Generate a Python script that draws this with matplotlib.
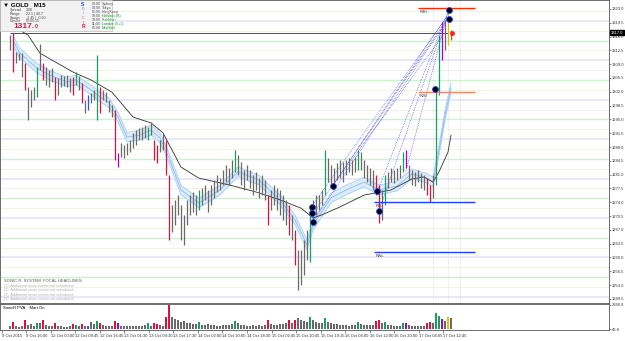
import numpy as np
import matplotlib.pyplot as plt
from matplotlib.patches import Rectangle

plt.rcParams['font.family'] = ['Liberation Sans', 'DejaVu Sans']

# ---- candles (M15 GOLD, resampled) ----
bar_high = [1316.4, 1316.9, 1312.1, 1311.8, 1311.8, 1309.3, 1303.2, 1302.5, 1303.2, 1308.3,
            1314.1, 1309.3, 1308.3, 1307.5, 1308.0, 1305.8, 1305.5, 1306.3, 1306.0, 1306.3,
            1305.5, 1305.8, 1307.0, 1306.0, 1304.2, 1299.9, 1301.2, 1301.7, 1302.5, 1311.3,
            1303.2, 1302.5, 1301.9, 1299.9, 1298.7, 1297.4, 1286.5, 1289.0, 1288.5, 1289.0,
            1289.8, 1291.6, 1292.3, 1292.8, 1293.1, 1293.6, 1293.1, 1294.3, 1289.8, 1288.5,
            1289.8, 1291.6, 1289.8, 1280.9, 1273.3, 1274.6, 1275.8, 1273.3, 1270.8, 1274.6,
            1275.8, 1276.6, 1275.8, 1277.1, 1277.6, 1278.4, 1277.1, 1278.4, 1279.6, 1280.9,
            1280.1, 1282.2, 1283.4, 1282.7, 1284.7, 1287.2, 1286.0, 1284.2, 1282.2, 1283.4,
            1282.2, 1280.9, 1281.7, 1280.1, 1280.9, 1279.6, 1275.8, 1277.1, 1278.4, 1277.6,
            1277.1, 1275.8, 1274.6, 1273.3, 1270.8, 1267.0, 1261.9, 1261.9, 1264.4, 1267.0,
            1273.3, 1274.6, 1275.8, 1275.8, 1277.1, 1287.2, 1285.2, 1283.4, 1282.7, 1283.9,
            1284.7, 1284.2, 1284.7, 1285.2, 1284.7, 1285.5, 1287.2, 1286.7, 1284.7, 1283.4,
            1282.7, 1282.2, 1280.9, 1278.4, 1277.1, 1280.9, 1281.7, 1282.7, 1282.2, 1282.7,
            1283.4, 1286.7, 1287.2, 1283.4, 1282.2, 1281.7, 1282.2, 1281.5, 1280.9, 1280.1,
            1278.4, 1280.9, 1302.5, 1316.4, 1319.7, 1320.2, 1322.7, 1317.7]
bar_low = [1312.6, 1307.0, 1309.3, 1310.1, 1305.8, 1302.5, 1294.8, 1298.1, 1299.9, 1300.7,
           1307.5, 1305.0, 1303.7, 1303.2, 1304.5, 1299.9, 1301.2, 1303.2, 1303.5, 1303.2,
           1301.9, 1301.2, 1303.7, 1302.5, 1299.2, 1296.6, 1297.4, 1299.2, 1299.9, 1294.8,
           1296.6, 1299.9, 1299.4, 1296.9, 1295.6, 1284.7, 1282.9, 1285.5, 1285.2, 1286.0,
           1286.7, 1287.7, 1288.5, 1289.8, 1289.8, 1290.3, 1289.8, 1291.0, 1284.7, 1283.9,
           1286.7, 1287.2, 1280.9, 1264.4, 1266.4, 1268.2, 1270.8, 1264.4, 1263.2, 1268.2,
           1270.8, 1271.5, 1270.8, 1272.0, 1273.3, 1274.6, 1271.5, 1273.3, 1275.1, 1276.6,
           1277.1, 1278.4, 1279.1, 1278.4, 1280.1, 1281.7, 1280.9, 1278.4, 1277.1, 1279.6,
           1277.6, 1275.8, 1277.1, 1275.1, 1275.8, 1274.6, 1268.2, 1272.0, 1273.3, 1272.0,
           1270.8, 1269.5, 1268.2, 1265.7, 1264.4, 1258.1, 1251.7, 1253.0, 1255.5, 1259.3,
           1258.8, 1269.5, 1270.8, 1272.0, 1273.3, 1275.8, 1279.1, 1278.4, 1277.1, 1279.6,
           1280.1, 1279.1, 1280.9, 1281.7, 1280.9, 1281.7, 1282.2, 1282.2, 1280.1, 1279.1,
           1278.4, 1277.1, 1275.8, 1268.7, 1269.5, 1273.3, 1277.6, 1279.1, 1278.9, 1279.6,
           1280.1, 1281.7, 1282.7, 1279.6, 1278.4, 1278.1, 1279.1, 1277.6, 1277.1, 1275.8,
           1274.1, 1275.1, 1278.4, 1301.2, 1310.1, 1312.6, 1313.9, 1315.1]
# g grey, r climax down, G climax up, b/m rising volume, y alert
bar_kind = ("grgggrgggG" "grgggrgggg" "grGgrgbggG" "rggggrmggg" "ggggggGgrr"
            "ggrrgggggg" "gggGgggggg" "gggggGgggg" "ggggggrggg" "gggrgrgggg"
            "GggggGgggg" "ggggggGggg" "ggrrgGgggg" "gGmggggggr" "rgGGmgyg")
volume = [350, 900, 420, 300, 380, 1050, 520, 600, 450, 800,
          700, 1100, 480, 420, 380, 700, 450, 350, 300, 320,
          400, 650, 500, 350, 600, 420, 380, 900, 650, 1000,
          800, 500, 420, 380, 450, 1000, 700, 450, 380, 400,
          350, 420, 380, 450, 400, 520, 750, 450, 800, 650,
          500, 450, 1400, 2866, 1500, 1200, 1100, 900, 1000, 800,
          700, 650, 600, 900, 550, 500, 620, 480, 520, 450,
          420, 480, 500, 560, 620, 1000, 700, 560, 480, 450,
          420, 520, 400, 480, 450, 500, 1050, 650, 560, 500,
          600, 650, 700, 1100, 800, 1150, 1300, 1100, 1000, 900,
          1500, 1100, 900, 800, 700, 1300, 900, 700, 650, 600,
          560, 520, 480, 450, 500, 480, 850, 650, 520, 480,
          500, 560, 950, 1100, 700, 850, 520, 480, 450, 420,
          450, 800, 750, 500, 420, 400, 380, 420, 450, 700,
          900, 800, 1900, 1600, 1200, 1000, 1400, 1300]
last_price = 1317.0

# slow MA (black) read at a few bars
ma_bar = [2, 6, 10, 15, 21, 27, 34, 41, 47, 51, 57, 63, 73, 82, 90, 97, 101, 104,
          110, 118, 127, 134, 138, 141, 143, 146, 147]
ma_val = [1318.2, 1316.4, 1311.8, 1309.6, 1307.0, 1305.0, 1301.9, 1295.6, 1294.1, 1291.6,
          1282.9, 1280.1, 1278.4, 1276.6, 1274.6, 1272.5, 1270.0, 1270.8, 1272.8, 1275.8,
          1277.1, 1279.9, 1280.4, 1279.1, 1281.7, 1286.7, 1291.0]
# dragon band (EMA34 of close, high, low)
band_bar = [1, 3, 7, 9, 13, 19, 22, 27, 30, 33, 36, 39, 43, 47, 50, 53, 57, 63, 70, 76,
            83, 90, 95, 99, 101, 107, 112, 118, 123, 129, 134, 139, 141, 143, 145, 147]
band_mid = [1315.1, 1312.1, 1309.3, 1308.0, 1306.3, 1304.5, 1305.0, 1302.5, 1300.7, 1299.2,
            1295.6, 1290.5, 1291.0, 1292.3, 1290.3, 1285.2, 1277.1, 1273.8, 1277.1, 1281.7,
            1279.6, 1274.6, 1269.5, 1263.2, 1268.2, 1275.1, 1277.1, 1279.1, 1277.1, 1278.1,
            1281.2, 1280.1, 1279.1, 1287.2, 1296.1, 1303.0]
band_half = 1.2

# fan of dotted trend lines (bar, price) -> (bar, price)
fan = [(100.5, 1272.8, 145.5, 1321.0), (101, 1271.0, 145, 1319.7), (101, 1269.0, 144, 1318.2),
       (107.5, 1278.1, 145.5, 1321.0), (107.5, 1278.1, 144, 1316.0), (122.5, 1276.8, 146, 1322.2),
       (123, 1271.8, 145, 1319.7), (132, 1282.0, 146, 1322.2)]
sig_bar = [100.7, 100.7, 101, 107.7, 122.3, 123, 146.3, 146.3, 141.7]
sig_val = [1272.8, 1271.3, 1269.0, 1278.1, 1276.8, 1271.8, 1322.7, 1320.5, 1302.8]

levels = [1323.3, 1302.0, 1274.1, 1261.4]
level_names = ["R4H", "R2H", "R0L", "RWL"]
level_start = [136, 136, 121.5, 121.5]
level_colors = ["#ff2a00", "#f4846a", "#1f3fff", "#1f3fff"]

price_ticks = [1323.0, 1319.5, 1316.0, 1312.5, 1309.0, 1305.5, 1302.0, 1298.5, 1295.0, 1291.5,
               1288.0, 1284.5, 1281.0, 1277.5, 1274.0, 1270.5, 1267.0, 1263.5, 1260.0, 1256.5,
               1253.0, 1249.5]
time_labels = ["9 Oct 2015", "9 Oct 16:00", "12 Oct 00:00", "12 Oct 08:45", "12 Oct 16:45",
               "13 Oct 01:30", "13 Oct 09:30", "13 Oct 17:30", "14 Oct 02:00", "14 Oct 10:00",
               "14 Oct 18:30", "15 Oct 02:45", "15 Oct 10:45", "15 Oct 19:15", "16 Oct 04:00",
               "16 Oct 12:00", "16 Oct 20:00", "17 Oct 04:05", "17 Oct 12:45"]
sessions = ["03:00", "04:00", "05:00", "10:00", "10:00", "11:00", "05:00"]
session_names = ["Sydney", "Tokyo", "HongKong", "Helsinki (B)", "Frankfurt", "London (0+1)", "NewYork"]
headlines = ["(1)  Additional news events not scheduled"] * 4

kind_color = {"g": "#6a6a6a", "r": "#e0103c", "G": "#13a063", "b": "#2f55e0",
              "m": "#a800d8", "y": "#e0c000"}
cols = [kind_color[k] for k in bar_kind]
idx = np.arange(len(bar_high))

W, H = 625, 341
fig = plt.figure(figsize=(W / 100, H / 100), dpi=100)
ax = fig.add_axes([0, 1 - 303 / H, 609 / W, 303 / H])
vax = fig.add_axes([0, 1 - 330 / H, 609 / W, 26 / H])

# round-number grid
for p in np.arange(1250, 1325, 2.5):
    if p % 10 == 0:
        c, lw = "#e2e2f8", 1.1
    elif p % 5 == 0:
        c, lw = "#cdf2cd", 1.0
    else:
        c, lw = "#f3f3e4", 0.8
    ax.axhline(p, color=c, lw=lw, zorder=0)

ax.hlines(last_price, 0, 146, color="#333333", lw=0.6, zorder=1)

ax.fill_between(band_bar, np.array(band_mid) - band_half, np.array(band_mid) + band_half,
                color="#dcecfb", lw=0, zorder=1)
ax.plot(band_bar, np.array(band_mid) + band_half, color="#abd2f6", lw=0.7, zorder=2)
ax.plot(band_bar, np.array(band_mid) - band_half, color="#abd2f6", lw=0.7, zorder=2)
ax.plot(band_bar, band_mid, color="#8cbcec", lw=0.6, zorder=2)
ax.plot(ma_bar, ma_val, color="#333333", lw=0.6, zorder=3)

for x0, y0, x1, y1 in fan:
    ax.plot([x0, x1], [y0, y1], color="#3a3ae0", lw=0.5, ls=(0, (1, 1.5)), zorder=2)

ax.vlines(idx, bar_low, bar_high, colors=cols, lw=0.9, zorder=4)

for p, name, s, c in zip(levels, level_names, level_start, level_colors):
    ax.hlines(p, s, 155, color=c, lw=1.0, zorder=5)
    ax.text(s + 0.5, p - 0.6, name, fontsize=2.8, color="#333333", va="top")

for xv in [141, 146, 150]:
    ax.axvline(xv, color="#c8c8c8", lw=0.5, ls=(0, (1, 2)), zorder=1)

ax.scatter(sig_bar, sig_val, s=18, color="black", edgecolor="#2848ff", lw=0.6, zorder=6)
ax.scatter([147.5], [last_price], s=6, color="#ff2020", zorder=6)

ax.set_xlim(-3.33, 199.67)
ax.set_ylim(1248.44, 1325.28)
ax.yaxis.tick_right()
ax.set_yticks(price_ticks)
ax.set_yticklabels([f"{v:.1f}" for v in price_ticks])
ax.tick_params(axis="y", labelsize=3.0, length=1.5, width=0.4, pad=0.8, colors="#333333")
ax.set_xticks([])
for s in ax.spines.values():
    s.set_linewidth(0.6)
    s.set_color("#555555")
ax.text(1.003, (last_price - 1248.44) / (1325.28 - 1248.44), f"{last_price:.1f}",
        transform=ax.transAxes, fontsize=3.0, color="white", va="center", ha="left",
        bbox=dict(boxstyle="square,pad=0.15", fc="black", ec="black"))

# volume panel
vax.bar(idx, volume, width=0.8, color=cols)
vax.set_xlim(-3.33, 199.67)
vax.set_ylim(-60, 2960)
vax.yaxis.tick_right()
vax.set_yticks([46.8, 2866.8])
vax.set_yticklabels(["46.8", "2866.8"])
vax.tick_params(axis="y", labelsize=3.0, length=1.5, width=0.4, pad=0.8, colors="#333333")
tick_pos = -2.7 + 8.17 * np.arange(len(time_labels))
vax.set_xticks(tick_pos)
vax.set_xticklabels(time_labels, ha="left")
vax.tick_params(axis="x", labelsize=3.0, length=2, width=0.4, pad=1, colors="#333333")
for s in vax.spines.values():
    s.set_linewidth(0.6)
    s.set_color("#555555")
vax.text(0.005, 0.93, "SonicR PVA    Mart On", transform=vax.transAxes, fontsize=3.0, va="top")


def fx(px):
    return px / W


def fy(py):
    return 1 - py / H


# info panel top left
fig.patches.append(Rectangle((0, fy(31)), fx(112), 31 / H, transform=fig.transFigure,
                             fc="#f2f2f2", ec="#bdbdbd", lw=0.5, zorder=10))
fig.text(fx(3), fy(5), "\u25bc GOLD   M15", fontsize=4.4, weight="bold", va="center", zorder=11)
rows = [("Spread", "3.00"), ("Range", "22.1 | 40.7"), ("Swaps", "-2.45 | -0.20"), ("Candle", "00:05:15")]
for k, (a, b) in enumerate(rows):
    fig.text(fx(10), fy(10 + 3.8 * k), a, fontsize=2.6, color="#444444", va="center", zorder=11)
    fig.text(fx(26), fy(10 + 3.8 * k), b, fontsize=2.6, color="#444444", va="center", zorder=11)
fig.text(fx(13), fy(26.5), "1317.", fontsize=6.0, weight="bold", color="#e8104a", va="center", zorder=11)
fig.text(fx(35), fy(27), "0", fontsize=3.8, weight="bold", color="#e8104a", va="center", zorder=11)
for k, (ch, c) in enumerate(zip("SDICIR", ["#1a3cf0", "#8aa0f0", "#c090f0", "#f080a0", "#f04070", "#e01040"])):
    fig.text(fx(83), fy(4.5 + 4.5 * k), ch, fontsize=3.6 if k in (0, 5) else 2.6,
             weight="bold", color=c, va="center", ha="center", zorder=11)
for k, (t, n) in enumerate(zip(sessions, session_names)):
    c = "#555555" if k < 3 else "#1c9c2c"
    fig.text(fx(92), fy(4 + 4.0 * k), t, fontsize=2.6, color="#555555", va="center", zorder=11)
    fig.text(fx(102), fy(4 + 4.0 * k), n, fontsize=2.6, color=c, va="center", zorder=11)

fig.text(fx(4), fy(281), "SONIC R. SYSTEM  FOCAL HEADLINES:", fontsize=3.0, color="#555555", va="center")
for k, h in enumerate(headlines):
    fig.text(fx(4), fy(286 + 4.3 * k), h.replace("(1)", f"({k + 1})"), fontsize=2.7,
             color="#b0b0b0", va="center")

fig.savefig("out.png", dpi=100, facecolor="white")
